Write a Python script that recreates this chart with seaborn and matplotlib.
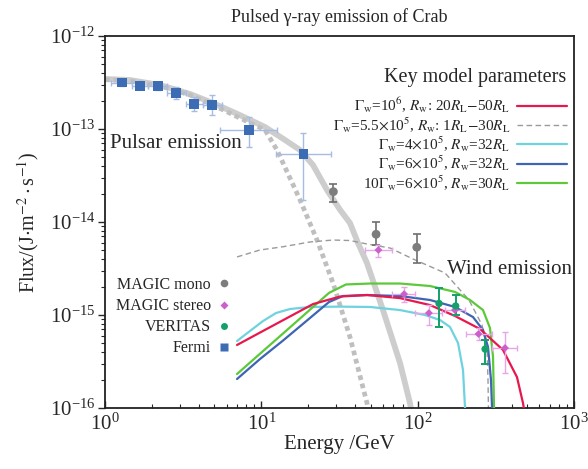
import numpy as np
import matplotlib
matplotlib.use("Agg")
import matplotlib.pyplot as plt
import seaborn as sns
from matplotlib.lines import Line2D

# ---------------- data ----------------
# Fermi (blue squares)
fermi_E = [1.28, 1.67, 2.17, 2.86, 3.72, 4.86, 8.34, 18.6]
fermi_F = [3.16e-13, 2.88e-13, 2.90e-13, 2.42e-13, 1.85e-13, 1.80e-13, 9.75e-14, 5.38e-14]
fermi_E_lo = [1.09, 1.49, 1.88, 2.49, 3.30, 4.23, 5.44, 12.4]
fermi_E_hi = [1.49, 1.88, 2.49, 3.30, 4.23, 5.60, 12.6, 27.9]
fermi_F_lo = [2.93e-13, 2.67e-13, 2.64e-13, 2.09e-13, 1.55e-13, 1.41e-13, 6.46e-14, 1.73e-14]
fermi_F_hi = [3.40e-13, 3.10e-13, 3.19e-13, 2.81e-13, 2.20e-13, 2.30e-13, 1.34e-13, 9.00e-14]

# MAGIC mono (grey circles)
mono_E = [28.9, 54.2, 98.7]
mono_F = [2.12e-14, 7.38e-15, 5.35e-15]
mono_F_lo = [1.63e-14, 5.66e-15, 3.65e-15]
mono_F_hi = [2.54e-14, 1.01e-14, 7.43e-15]

# MAGIC stereo (magenta diamonds)
stereo_E = [56.1, 81.9, 118, 173, 245, 362]
stereo_F = [5.0e-15, 1.68e-15, 1.05e-15, 1.13e-15, 6.25e-16, 4.42e-16]
stereo_E_lo = [46.0, 68.3, 96.2, 150, 204, 298]
stereo_E_hi = [68.3, 96.2, 143, 201, 298, 430]
stereo_F_lo = [4.24e-15, 1.39e-15, 7.8e-16, 9.9e-16, 5.4e-16, 2.4e-16]
stereo_F_hi = [5.66e-15, 2.01e-15, 1.28e-15, 1.30e-15, 7.2e-16, 6.6e-16]

# VERITAS (green circles)
veritas_E = [137, 175, 270]
veritas_F = [1.33e-15, 1.25e-15, 4.3e-16]
veritas_F_lo = [7.5e-16, 1.0e-15, 3.0e-16]
veritas_F_hi = [1.94e-15, 1.64e-15, 5.4e-16]

# Pulsar emission models (grey bands)
pulsar1_E = [1.0, 1.445, 2.25, 3.50, 5.05, 7.30, 10.56, 14.17, 17.68, 21.4, 26.3, 31.9, 36.9, 41.5, 47.4, 60.0, 77.1, 89.3, 92.0]
pulsar1_F = [3.45e-13, 3.36e-13, 2.97e-13, 2.38e-13, 1.86e-13, 1.41e-13, 1.05e-13, 7.62e-14, 5.94e-14, 4.10e-14,
             2.21e-14, 1.35e-14, 9.75e-15, 5.95e-15, 3.62e-15, 1.13e-15, 3.05e-16, 1.13e-16, 8.4e-17]
pulsar2_E = [1.0, 1.445, 2.25, 3.50, 5.05, 7.30, 10.56, 12.6, 17.68, 22.7, 28.75, 36.9, 47.4, 48.8]
pulsar2_F = [3.40e-13, 3.28e-13, 2.90e-13, 2.32e-13, 1.77e-13, 1.31e-13, 9.75e-14, 5.94e-14, 1.73e-14, 6.40e-15,
             2.21e-15, 5.80e-16, 1.13e-16, 8.4e-17]

# Wind emission models
wind55_E = [6.99, 9.80, 13.76, 20.48, 28.75, 36.9, 47.4, 66.6, 93.4, 149.6, 213, 258, 277.8, 281.8, 284]
wind55_F = [4.21e-15, 5.0e-15, 5.42e-15, 6.10e-15, 6.40e-15, 6.32e-15, 5.80e-15, 5.25e-15, 4.00e-15, 2.83e-15,
            1.45e-15, 7.80e-16, 4.31e-16, 2.00e-16, 8.4e-17]
red_E = [6.99, 9.80, 13.76, 21.4, 31.9, 47.4, 77.1, 119.9, 173.4, 250.5, 351.4, 431.8, 471.8, 486]
red_F = [4.76e-16, 6.47e-16, 8.79e-16, 1.31e-15, 1.58e-15, 1.64e-15, 1.52e-15, 1.28e-15, 9.75e-16, 7.07e-16,
         4.21e-16, 2.15e-16, 1.13e-16, 8.4e-17]
cyan_E = [6.99, 8.46, 10.25, 12.41, 15.26, 20.48, 31.86, 49.56, 77.1, 111.4, 139, 161, 181.2, 195, 200.9, 202.4]
cyan_F = [5.25e-16, 6.73e-16, 8.61e-16, 1.05e-15, 1.16e-15, 1.22e-15, 1.23e-15, 1.22e-15, 1.13e-15, 1.0e-15,
          8.83e-16, 7.43e-16, 5.0e-16, 2.56e-16, 1.0e-16, 8.4e-17]
blue_E = [6.99, 9.80, 13.76, 19.31, 27.1, 33.3, 47.4, 77.1, 119.9, 173.4, 225.9, 261.8, 281.8, 294.5, 299.0, 301.2]
blue_F = [2.05e-16, 3.36e-16, 5.31e-16, 8.55e-16, 1.38e-15, 1.60e-15, 1.64e-15, 1.60e-15, 1.45e-15, 1.22e-15,
          9.51e-16, 6.90e-16, 4.53e-16, 2.0e-16, 1.0e-16, 8.4e-17]
green_E = [6.99, 9.80, 13.76, 19.31, 27.1, 34.8, 49.56, 77.1, 119.9, 173.4, 216.2, 261.8, 290.2, 303.5, 307.9, 310]
green_F = [2.32e-16, 3.83e-16, 6.32e-16, 1.045e-15, 1.73e-15, 2.13e-15, 2.18e-15, 2.18e-15, 2.05e-15, 1.77e-15,
           1.45e-15, 1.13e-15, 7.24e-16, 3.53e-16, 1.0e-16, 8.4e-17]

x_ticks = [1, 10, 100, 1000]
y_ticks = [1e-16, 1e-15, 1e-14, 1e-13, 1e-12]

model_labels = [
    r"$\mathit{\Gamma}_{\rm w}$=10$^6$, $R_{\rm w}$: 20$R_{\rm L}$$-$50$R_{\rm L}$",
    r"$\mathit{\Gamma}_{\rm w}$=5.5$\times$10$^5$, $R_{\rm w}$: 1$R_{\rm L}$$-$30$R_{\rm L}$",
    r"$\mathit{\Gamma}_{\rm w}$=4$\times$10$^5$, $R_{\rm w}$=32$R_{\rm L}$",
    r"$\mathit{\Gamma}_{\rm w}$=6$\times$10$^5$, $R_{\rm w}$=32$R_{\rm L}$",
    r"10$\mathit{\Gamma}_{\rm w}$=6$\times$10$^5$, $R_{\rm w}$=30$R_{\rm L}$",
]
data_labels = ["MAGIC mono", "MAGIC stereo", "VERITAS", "Fermi"]

# ---------------- style ----------------
sns.set_style("ticks")
plt.rcParams["font.family"] = ["Liberation Serif", "DejaVu Serif"]
plt.rcParams["mathtext.fontset"] = "stix"

C_RED = "#e8174d"
C_CYAN = "#6fd3df"
C_BLUE = "#3e64b3"
C_GREEN = "#5cc93a"
C_DASH = "#9a9a9a"
C_BAND = "#cdcdcd"
C_MONO = "#7d7d7d"
C_STEREO = "#cc5fcc"
C_STEREO_ERR = "#e7a6e7"
C_VER = "#14a06a"
C_FERMI = "#3b6cb4"
C_FERMI_ERR = "#a7bce3"

fig = plt.figure(figsize=(5.88, 4.69), dpi=100)
ax = fig.add_axes([105 / 588, 1 - 408 / 469, 469 / 588, 372 / 469])
ax.set_xscale("log")
ax.set_yscale("log")

# pulsar bands
sns.lineplot(x=pulsar1_E, y=pulsar1_F, ax=ax, color=C_BAND, lw=4.2, sort=False, estimator=None,
             legend=False, solid_capstyle="butt", zorder=1)
sns.lineplot(x=pulsar2_E, y=pulsar2_F, ax=ax, color="#bfbfbf", lw=3.4, sort=False, estimator=None,
             legend=False, zorder=1)
ax.lines[-1].set_dashes((1.0, 0.8))

# wind models
sns.lineplot(x=wind55_E, y=wind55_F, ax=ax, color=C_DASH, lw=1.0, sort=False, estimator=None, legend=False, zorder=2)
ax.lines[-1].set_dashes((4, 2.5))
sns.lineplot(x=cyan_E, y=cyan_F, ax=ax, color=C_CYAN, lw=1.6, sort=False, estimator=None, legend=False, zorder=3)
sns.lineplot(x=green_E, y=green_F, ax=ax, color=C_GREEN, lw=1.6, sort=False, estimator=None, legend=False, zorder=3)
sns.lineplot(x=blue_E, y=blue_F, ax=ax, color=C_BLUE, lw=1.6, sort=False, estimator=None, legend=False, zorder=3)
sns.lineplot(x=red_E, y=red_F, ax=ax, color=C_RED, lw=1.6, sort=False, estimator=None, legend=False, zorder=4)


def asym(v, lo, hi):
    v = np.asarray(v, float)
    return [v - np.asarray(lo, float), np.asarray(hi, float) - v]


# error bars
ax.errorbar(fermi_E, fermi_F, xerr=asym(fermi_E, fermi_E_lo, fermi_E_hi),
            yerr=asym(fermi_F, fermi_F_lo, fermi_F_hi), fmt="none", ecolor=C_FERMI_ERR,
            elinewidth=1.0, capsize=2.5, capthick=1.0, zorder=5)
ax.errorbar(mono_E, mono_F, yerr=asym(mono_F, mono_F_lo, mono_F_hi), fmt="none", ecolor="#6e6e6e",
            elinewidth=1.2, capsize=3, capthick=1.2, zorder=5)
ax.errorbar(stereo_E, stereo_F, xerr=asym(stereo_E, stereo_E_lo, stereo_E_hi),
            yerr=asym(stereo_F, stereo_F_lo, stereo_F_hi), fmt="none", ecolor=C_STEREO_ERR,
            elinewidth=1.0, capsize=2.5, capthick=1.0, zorder=5)
ax.errorbar(veritas_E, veritas_F, yerr=asym(veritas_F, veritas_F_lo, veritas_F_hi), fmt="none",
            ecolor=C_VER, elinewidth=1.4, capsize=3, capthick=1.4, zorder=5)

# markers
sns.scatterplot(x=fermi_E, y=fermi_F, ax=ax, marker="s", s=50, color=C_FERMI, edgecolor="none", zorder=6, legend=False)
sns.scatterplot(x=mono_E, y=mono_F, ax=ax, marker="o", s=40, color=C_MONO, edgecolor="none", zorder=6, legend=False)
sns.scatterplot(x=stereo_E, y=stereo_F, ax=ax, marker="D", s=16, color=C_STEREO, edgecolor="none", zorder=6, legend=False)
sns.scatterplot(x=veritas_E, y=veritas_F, ax=ax, marker="o", s=28, color=C_VER, edgecolor="none", zorder=6, legend=False)

ax.set_xlim(1, 1000)
ax.set_ylim(1e-16, 1e-12)
ax.set_xticks(x_ticks)
ax.set_yticks(y_ticks)

# ticks
ax.tick_params(axis="x", which="major", direction="in", length=5, width=1, labelsize=15, pad=4)
ax.tick_params(axis="x", which="minor", direction="in", length=3, width=0.8)
ax.tick_params(axis="y", which="major", direction="out", length=5, width=1, labelsize=15, pad=2)
ax.tick_params(axis="y", which="minor", direction="out", length=3, width=0.8)
ax.xaxis.set_minor_locator(matplotlib.ticker.LogLocator(base=10, subs=np.arange(2, 10), numticks=20))
ax.yaxis.set_minor_locator(matplotlib.ticker.LogLocator(base=10, subs=np.arange(2, 10), numticks=20))
ax.yaxis.set_minor_formatter(matplotlib.ticker.NullFormatter())
ax.xaxis.set_minor_formatter(matplotlib.ticker.NullFormatter())
ax.set_xlim(1, 1000)
ax.set_ylim(1e-16, 1e-12)
for sp in ax.spines.values():
    sp.set_linewidth(1.3)
    sp.set_color("#222222")

ax.set_xlabel("Energy /GeV", fontsize=15, labelpad=0)
ax.set_ylabel(r"Flux/(J$\cdot$m$^{-2}\cdot$s$^{-1}$)", fontsize=14.5, labelpad=6)
ax.set_title("Pulsed γ-ray emission of Crab", fontsize=13, pad=10)

# annotations
ax.text(0.011, 0.712, "Pulsar emission", transform=ax.transAxes, fontsize=15, ha="left", va="center")
ax.text(0.996, 0.371, "Wind emission", transform=ax.transAxes, fontsize=15, ha="right", va="center")
ax.text(0.79, 0.888, "Key model parameters", transform=ax.transAxes, fontsize=14.5, ha="center", va="center")

# model legend (markerfirst=False right-aligns the rows)
model_handles = [
    Line2D([], [], color=C_RED, lw=1.6),
    Line2D([], [], color=C_DASH, lw=1.0, dashes=(4, 2.5)),
    Line2D([], [], color=C_CYAN, lw=1.6),
    Line2D([], [], color=C_BLUE, lw=1.6),
    Line2D([], [], color=C_GREEN, lw=1.6),
]
leg1 = ax.legend(model_handles, model_labels, loc="upper right", bbox_to_anchor=(0.985, 0.84),
                 frameon=False, markerfirst=False, fontsize=11, handlelength=3.3,
                 handletextpad=0.4, labelspacing=0.0, borderpad=0, borderaxespad=0)
ax.add_artist(leg1)

data_handles = [
    Line2D([], [], ls="none", marker="o", ms=5.5, color=C_MONO, mec="none"),
    Line2D([], [], ls="none", marker="D", ms=3.8, color=C_STEREO, mec="none"),
    Line2D([], [], ls="none", marker="o", ms=5, color=C_VER, mec="none"),
    Line2D([], [], ls="none", marker="s", ms=5.5, color=C_FERMI, mec="none"),
]
leg2 = ax.legend(data_handles, data_labels, loc="upper right", bbox_to_anchor=(0.27, 0.352),
                 frameon=False, markerfirst=False, fontsize=11.5, handlelength=1.0,
                 handletextpad=0.3, labelspacing=0.32, borderpad=0, borderaxespad=0)

fig.savefig("out.png", dpi=100)
